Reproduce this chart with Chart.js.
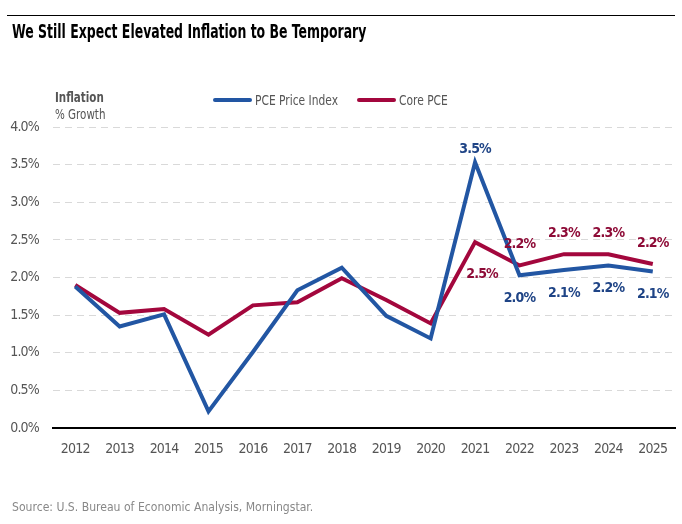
<!DOCTYPE html>
<html>
<head>
<meta charset="utf-8">
<script src="https://cdn.jsdelivr.net/npm/chart.js@4/dist/chart.umd.min.js"></script>
<style>
  body { margin: 0; background: #fff; }
  #wrap { position: relative; width: 682px; height: 524px; font-family: "DejaVu Sans Condensed", "DejaVu Sans", sans-serif; }
  #rule { position: absolute; left: 7px; right: 7px; top: 15px; border-top: 1.5px solid #000; }
  .sq { position: absolute; transform-origin: 0 0; white-space: nowrap; }
  #title { left: 12px; top: 20px; font-size: 19px; font-weight: bold; color: #000; transform: scaleX(0.73); }
  #ytitle { left: 55px; top: 89px; font-size: 14px; color: #555; line-height: 17px; transform: scaleX(0.82); }
  #legend span.item { position: absolute; top: 92px; display: flex; align-items: center; font-size: 14px; color: #555; white-space: nowrap; }
  #legend span.sw { display: inline-block; width: 39px; height: 4px; border-radius: 2px; margin-right: 3px; }
  #legend span.txt { display: inline-block; transform-origin: 0 50%; transform: scaleX(0.85); }
  #source { left: 12px; top: 499px; font-size: 13px; color: #888; transform: scaleX(0.93); }
  canvas { position: absolute; left: 0; top: 0; }
</style>
</head>
<body>
<div id="wrap">
  <canvas id="chart" width="682" height="524"></canvas>
  <div id="rule"></div>
  <div id="title" class="sq">We Still Expect Elevated Inflation to Be Temporary</div>
  <div id="ytitle" class="sq"><b>Inflation</b><br>% Growth</div>
  <div id="legend"></div>
  <div id="source" class="sq">Source: U.S. Bureau of Economic Analysis, Morningstar.</div>
</div>
<script>
// Data
const years = ["2012", "2013", "2014", "2015", "2016", "2017", "2018", "2019", "2020", "2021", "2022", "2023", "2024", "2025"];
const pce = [1.88, 1.35, 1.51, 0.22, 1.01, 1.83, 2.13, 1.49, 1.19, 3.53, 2.03, 2.10, 2.16, 2.08];
const corePce = [1.90, 1.53, 1.58, 1.24, 1.63, 1.67, 1.99, 1.70, 1.39, 2.47, 2.16, 2.31, 2.31, 2.18];
const pceLabels = [null, null, null, null, null, null, null, null, null, "3.5%", "2.0%", "2.1%", "2.2%", "2.1%"];
const coreLabels = [null, null, null, null, null, null, null, null, null, "2.5%", "2.2%", "2.3%", "2.3%", "2.2%"];
// label placement: -1 above the point, 1 below
const pceLabelSide = [0, 0, 0, 0, 0, 0, 0, 0, 0, -1, 1, 1, 1, 1];
const coreLabelSide = [0, 0, 0, 0, 0, 0, 0, 0, 0, 1, -1, -1, -1, -1];

const FONT = "'DejaVu Sans Condensed', 'DejaVu Sans', sans-serif";
const BLUE = "#2256a3";
const RED = "#a3073d";

// tighter canvas text to mimic the condensed face
const tightText = {
  id: "tightText",
  beforeUpdate(chart) { chart.ctx.letterSpacing = "-0.8px"; },
  beforeDraw(chart) { chart.ctx.letterSpacing = "-0.8px"; },
};

// point labels plugin
const pointLabels = {
  id: "pointLabels",
  afterDatasetsDraw(chart) {
    const ctx = chart.ctx;
    const sets = [
      { idx: 0, texts: pceLabels, side: pceLabelSide, color: "#1f4486" },
      { idx: 1, texts: coreLabels, side: coreLabelSide, color: "#8e0b37" },
    ];
    ctx.save();
    ctx.letterSpacing = "-0.8px";
    ctx.font = "bold 14px " + FONT;
    ctx.textAlign = "center";
    ctx.textBaseline = "middle";
    sets.forEach(s => {
      const meta = chart.getDatasetMeta(s.idx);
      meta.data.forEach((pt, i) => {
        if (!s.texts[i]) return;
        let dy = s.side[i] < 0 ? -21 : 23;
        let dx = 0;
        if (s.idx === 0 && s.side[i] < 0) dy = -13;
        if (s.idx === 1 && s.side[i] > 0) { dy = 32; dx = 7; }
        ctx.fillStyle = s.color;
        ctx.fillText(s.texts[i], pt.x + dx, pt.y + dy);
      });
    });
    ctx.restore();
  }
};

const chart = new Chart(document.getElementById("chart").getContext("2d"), {
  type: "line",
  data: {
    labels: years,
    datasets: [
      { label: "PCE Price Index", data: pce, borderColor: BLUE, borderWidth: 4, pointRadius: 0, tension: 0 },
      { label: "Core PCE", data: corePce, borderColor: RED, borderWidth: 4, pointRadius: 0, tension: 0 },
    ],
  },
  options: {
    responsive: false,
    animation: false,
    layout: { padding: { top: 127, right: 7, left: 0, bottom: 0 } },
    plugins: { legend: { display: false }, tooltip: { enabled: false }, title: { display: false } },
    scales: {
      x: {
        offset: true,
        grid: { display: false, drawTicks: false },
        border: { display: true, color: "#000", width: 2 },
        ticks: { color: "#555", font: { family: FONT, size: 14 }, padding: 13, maxRotation: 0 },
        afterFit(s) { s.height = 96; },
      },
      y: {
        min: 0,
        max: 4,
        ticks: {
          stepSize: 0.5,
          color: "#555",
          font: { family: FONT, size: 14 },
          padding: 14,
          callback: v => v.toFixed(1) + "%",
        },
        grid: {
          drawTicks: false,
          color: c => (c.tick && c.tick.value === 0 ? "rgba(0,0,0,0)" : "#d9d9d9"),
          lineWidth: 1,
        },
        border: { display: false, dash: [7, 5] },
        afterFit(s) { s.width = 53; },
      },
    },
  },
  plugins: [tightText, pointLabels],
});

// html legend
const legend = document.getElementById("legend");
const legendLeft = [213, 357];
chart.data.datasets.forEach((ds, i) => {
  const item = document.createElement("span");
  item.className = "item";
  item.style.left = legendLeft[i] + "px";
  item.innerHTML = '<span class="sw" style="background:' + ds.borderColor + '"></span><span class="txt">' + ds.label + '</span>';
  legend.appendChild(item);
});
</script>
</body>
</html>
